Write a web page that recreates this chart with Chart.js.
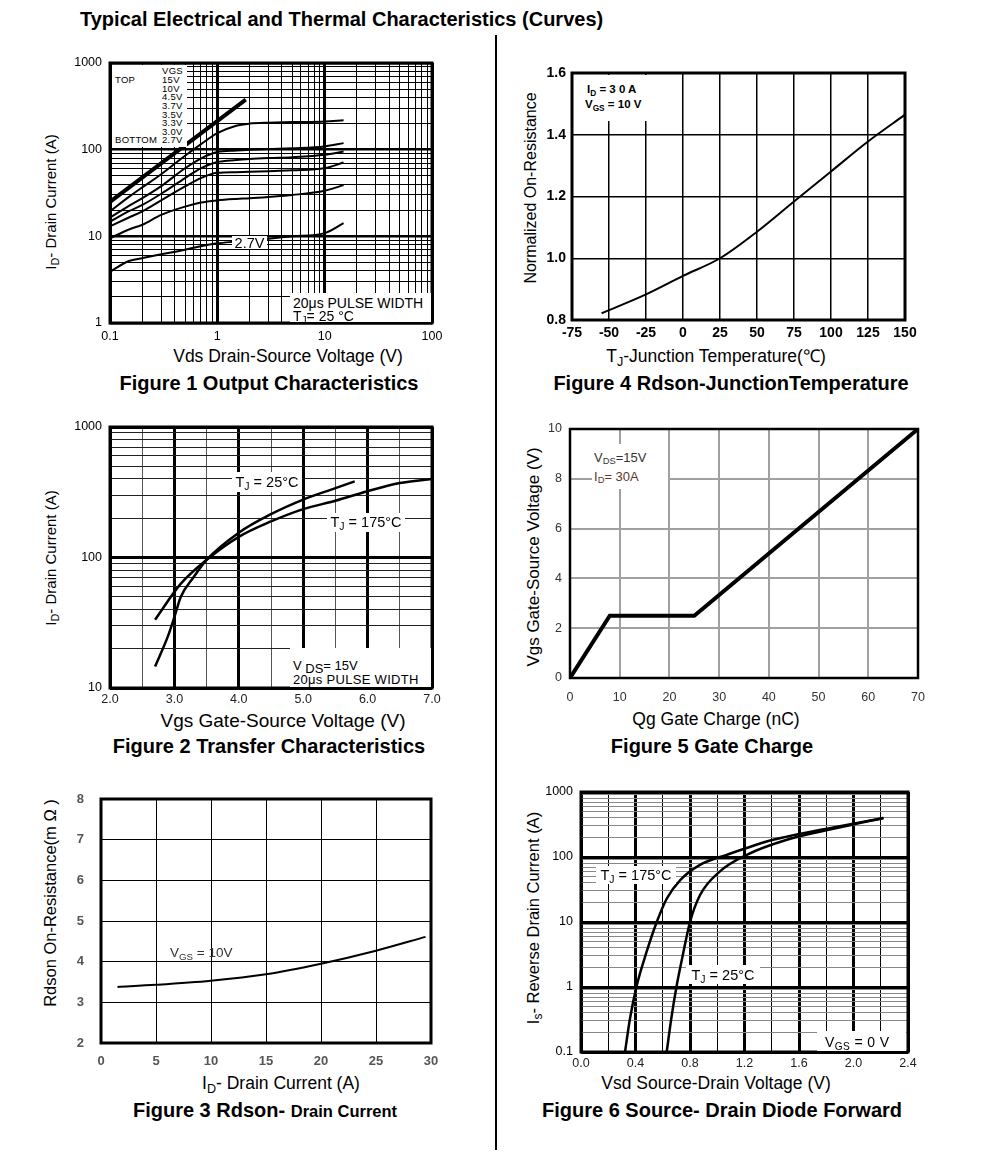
<!DOCTYPE html>
<html>
<head>
<meta charset="utf-8">
<script src="https://cdn.jsdelivr.net/npm/chart.js@4.4.1/dist/chart.umd.min.js"></script>
<style>
  body { margin: 0; background: #fff; }
  #page { position: relative; width: 991px; height: 1154px; overflow: hidden; font-family: "Liberation Sans", Arial, sans-serif; color: #000; }
  canvas { position: absolute; z-index: 1; }
  .t { position: absolute; white-space: nowrap; line-height: 1; transform: translate(-50%, -50%); }
  .r { position: absolute; white-space: nowrap; line-height: 1; transform: translate(-50%, -50%) rotate(-90deg); }
  .cap { font-weight: bold; font-size: 20px; }
  .ax { font-size: 17.5px; }
  .box { position: absolute; background: #fff; z-index: 2; }
  .n { position: absolute; white-space: nowrap; line-height: 1; transform: translateY(-50%); z-index: 3; }
  .nc { position: absolute; white-space: nowrap; line-height: 1; transform: translate(-50%, -50%); z-index: 3; }
  .leg { position: absolute; white-space: nowrap; z-index: 3; font-size: 9.5px; line-height: 8.62px; letter-spacing: 0.3px; }
  sub { font-size: 0.72em; vertical-align: -0.3em; line-height: 0; }
  #title { position: absolute; left: 80px; top: 8px; font-family: "Liberation Sans Narrow", "Liberation Sans", Arial, sans-serif; font-weight: bold; font-size: 20px; white-space: nowrap; }
  #divider { position: absolute; left: 495px; top: 35px; width: 2px; height: 1115px; background: #000; }
</style>
</head>
<body>
<div id="page">
  <div id="title">Typical Electrical and Thermal Characteristics (Curves)</div>
  <div id="divider"></div>

  <canvas id="fig1"></canvas>
  <canvas id="fig4"></canvas>
  <canvas id="fig2"></canvas>
  <canvas id="fig5"></canvas>
  <canvas id="fig3"></canvas>
  <canvas id="fig6"></canvas>

  <!-- figure 1 -->
  <div class="r" style="left:50px;top:202px;font-size:15px;">I<sub>D</sub>- Drain Current (A)</div>
  <div class="t ax" style="left:288px;top:357px;">Vds Drain-Source Voltage (V)</div>
  <div class="t cap" style="left:269px;top:383px;">Figure 1 Output Characteristics</div>
  <div class="box" style="left:112px;top:65px;width:75px;height:82px;"></div>
  <div class="leg" style="left:115px;top:67.4px;"><br>TOP<br><br><br><br><br><br><br>BOTTOM</div>
  <div class="leg" style="left:162px;top:67.4px;">VGS<br>15V<br>10V<br>4.5V<br>3.7V<br>3.5V<br>3.3V<br>3.0V<br>2.7V</div>
  <div class="box" style="left:232px;top:236px;width:35px;height:13px;"></div>
  <div class="nc" style="left:249.5px;top:242.5px;font-size:14.5px;">2.7V</div>
  <div class="box" style="left:290px;top:293px;width:141px;height:29px;"></div>
  <div class="n" style="left:293px;top:302.5px;font-size:14px;">20μs PULSE WIDTH</div>
  <div class="n" style="left:293px;top:316px;font-size:14px;">T<sub>J</sub>= 25 °C</div>

  <!-- figure 4 -->
  <div class="r" style="left:531px;top:188px;font-size:16px;">Normalized On-Resistance</div>
  <div class="t ax" style="left:716px;top:357px;">T<sub>J</sub>-Junction Temperature(℃)</div>
  <div class="t cap" style="left:731px;top:383px;">Figure 4 Rdson-JunctionTemperature</div>
  <div class="box" style="left:574px;top:75px;width:76px;height:46px;"></div>
  <div class="n" style="left:587px;top:90px;font-size:11.5px;font-weight:bold;">I<sub>D</sub> = 3 0 A</div>
  <div class="n" style="left:585px;top:105px;font-size:11.5px;font-weight:bold;">V<sub>GS</sub> = 10 V</div>

  <!-- figure 2 -->
  <div class="r" style="left:50px;top:558px;font-size:15px;">I<sub>D</sub>- Drain Current (A)</div>
  <div class="t" style="left:283px;top:720px;font-size:19px;">Vgs Gate-Source Voltage (V)</div>
  <div class="t cap" style="left:269px;top:746px;">Figure 2 Transfer Characteristics</div>
  <div class="box" style="left:232px;top:472px;width:70px;height:20px;"></div>
  <div class="nc" style="left:267px;top:482px;font-size:14.5px;">T<sub>J</sub> = 25°C</div>
  <div class="box" style="left:327px;top:513px;width:78px;height:19px;"></div>
  <div class="nc" style="left:366px;top:522px;font-size:14.5px;">T<sub>J</sub> = 175°C</div>
  <div class="box" style="left:290px;top:648px;width:141px;height:39px;"></div>
  <div class="n" style="left:293px;top:665px;font-size:13px;">V <sub style="font-size:1em">DS</sub>= 15V</div>
  <div class="n" style="left:293px;top:679px;font-size:13px;letter-spacing:0.3px;">20μs PULSE WIDTH</div>

  <!-- figure 5 -->
  <div class="r" style="left:533px;top:557px;font-size:17px;">Vgs Gate-Source Voltage (V)</div>
  <div class="t ax" style="left:716px;top:720px;">Qg Gate Charge (nC)</div>
  <div class="t cap" style="left:712px;top:746px;">Figure 5 Gate Charge</div>
  <div class="box" style="left:592px;top:444px;width:76px;height:45px;"></div>
  <div class="n" style="left:594px;top:457px;font-size:13px;color:#333;">V<sub>DS</sub>=15V</div>
  <div class="n" style="left:594px;top:476px;font-size:13px;color:#5e3528;">I<sub>D</sub>= 30A</div>

  <!-- figure 3 -->
  <div class="r" style="left:50px;top:903px;font-size:16.5px;">Rdson On-Resistance(m Ω )</div>
  <div class="t ax" style="left:281px;top:1084px;">I<sub>D</sub>- Drain Current (A)</div>
  <div class="t cap" style="left:265px;top:1110px;">Figure 3 Rdson- <span style="font-size:16.5px;">Drain Current</span></div>
  <div class="n" style="left:170px;top:953px;font-size:13.5px;color:#333;">V<sub>GS</sub> = 10V</div>

  <!-- figure 6 -->
  <div class="r" style="left:533px;top:918px;font-size:16.5px;">I<sub>s</sub>- Reverse Drain Current (A)</div>
  <div class="t ax" style="left:716px;top:1084px;">Vsd Source-Drain Voltage (V)</div>
  <div class="t cap" style="left:722px;top:1110px;">Figure 6 Source- Drain Diode Forward</div>
  <div class="box" style="left:596px;top:866px;width:80px;height:18px;"></div>
  <div class="nc" style="left:636px;top:875px;font-size:14.5px;">T<sub>J</sub> = 175°C</div>
  <div class="box" style="left:686px;top:965px;width:74px;height:19px;"></div>
  <div class="nc" style="left:723px;top:975px;font-size:14.5px;">T<sub>J</sub> = 25°C</div>
  <div class="box" style="left:817px;top:1031px;width:89px;height:20px;"></div>
  <div class="n" style="left:825px;top:1042px;font-size:14px;letter-spacing:0.4px;">V<sub>GS</sub> = 0 V</div>
</div>

<script>
// Figure 1 Output Characteristics (log-log)
const vdsPts = [0.1, 0.15, 0.2, 0.3, 0.5, 0.7, 1, 1.5, 2, 3, 5, 10, 15];
const vdsTop = [0.1, 1.84];
const idTop = [25, 378];
const id45V = [19.4, 28.5, 36.7, 52, 85, 115, 155, 189, 200, 205, 208, 212, 218];
const id37V = [16.4, 22.5, 27.6, 38, 61, 79, 94, 98, 100, 102, 104, 109, 119];
const id35V = [14.8, 19.5, 23, 31, 47, 61, 72, 76, 78, 80, 82, 87.5, 95];
const id33V = [13, 16.5, 19.4, 26, 37.6, 47, 54, 55, 55.5, 56.5, 58, 61, 71];
const id30V = [9.5, 12, 13.6, 17.7, 22, 24.5, 26, 27, 27.5, 28.5, 30, 33.6, 39];
const id27V = [3.9, 5.2, 5.6, 6.2, 7, 7.7, 8.3, 8.7, 9, 9.4, 10, 10.9, 14.2];

// Figure 2 Transfer Characteristics
const vgs25 = [2.7, 2.9, 3.0, 3.1, 3.3, 3.5, 4.0, 4.5, 5.0, 5.5, 5.8];
const id25 = [14.6, 25, 35, 50, 71, 96, 155, 215, 278, 340, 383];
const vgs175 = [2.7, 3.1, 3.5, 4.0, 4.5, 5.0, 5.5, 6.0, 6.5, 7.0];
const id175 = [33.4, 63, 96, 144, 189, 235, 272, 322, 372, 400];

// Figure 3 Rdson vs drain current
const idRds = [1.5, 5, 10, 15, 20, 25, 29.5];
const rdsOn = [3.38, 3.43, 3.53, 3.69, 3.95, 4.27, 4.61];

// Figure 4 Rdson vs junction temperature
const tj = [-55, -25, 0, 25, 50, 75, 100, 125, 150];
const rNorm = [0.822, 0.883, 0.943, 1.0, 1.086, 1.184, 1.281, 1.378, 1.465];

// Figure 5 Gate charge
const qg = [0, 8, 25, 70];
const vgsQ = [0, 2.5, 2.5, 10];

// Figure 6 Source-drain diode forward
const vsd175 = [0.323, 0.36, 0.41, 0.48, 0.556, 0.63, 0.73, 0.87, 1.07, 1.41, 1.76, 2.22];
const is175 = [0.1, 0.33, 1.07, 3.4, 10, 23, 44.5, 75, 108, 184, 262, 398];
const vsd25 = [0.629, 0.66, 0.703, 0.75, 0.80, 0.874, 1.02, 1.217, 1.511, 1.878, 2.22];
const is25 = [0.1, 0.3, 1.07, 3.3, 10, 26, 60, 108, 184, 279, 398];

Chart.defaults.font.family = "'Liberation Sans', Arial, sans-serif";
Chart.defaults.color = "#000";
Chart.defaults.animation = false;

// 枠線
const framePlugin = {
  id: "frame",
  afterDatasetsDraw(chart, args, opts) {
    const a = chart.chartArea;
    const c = chart.ctx;
    c.save();
    c.strokeStyle = "#000";
    c.lineWidth = opts.width || 3;
    c.strokeRect(a.left, a.top, a.right - a.left, a.bottom - a.top);
    c.restore();
  },
};
Chart.register(framePlugin);

function pts(xs, ys) {
  return xs.map((x, i) => ({ x: x, y: ys[i] }));
}

function isDecade(v) {
  const l = Math.log10(v);
  return Math.abs(l - Math.round(l)) < 1e-6;
}

function logTicks(min, max) {
  let out = [];
  for (let e = Math.round(Math.log10(min)); e < Math.round(Math.log10(max)); e++) {
    for (let k = 1; k < 10; k++) out.push(Number((k * Math.pow(10, e)).toPrecision(6)));
  }
  out.push(max);
  return out.map((v) => ({ value: v }));
}

function stepTicks(min, max, step) {
  let out = [];
  const n = Math.round((max - min) / step);
  for (let i = 0; i <= n; i++) out.push({ value: Number((min + i * step).toFixed(4)) });
  return out;
}

function line(data, width) {
  return {
    data: data,
    borderColor: "#000",
    borderWidth: width || 2,
    pointRadius: 0,
    fill: false,
    cubicInterpolationMode: "monotone",
  };
}

function logAxis(min, max, font, pad, minorColor, majorWidth) {
  return {
    type: "logarithmic",
    min: min,
    max: max,
    afterBuildTicks: (s) => { s.ticks = logTicks(min, max); },
    ticks: {
      autoSkip: false,
      maxRotation: 0,
      padding: pad,
      font: font,
      callback: (v) => (isDecade(v) ? String(v) : ""),
    },
    grid: {
      drawTicks: false,
      color: (c) => (c.tick && isDecade(c.tick.value) ? "#000" : minorColor),
      lineWidth: (c) => (c.tick && isDecade(c.tick.value) ? majorWidth : 1),
    },
    border: { display: false },
  };
}

function linAxis(min, max, step, font, pad, color, labelFn, gridColor, gridWidth) {
  return {
    type: "linear",
    min: min,
    max: max,
    afterBuildTicks: (s) => { s.ticks = stepTicks(min, max, step); },
    ticks: { autoSkip: false, maxRotation: 0, padding: pad, font: font, color: color, callback: labelFn },
    grid: { drawTicks: false, color: gridColor, lineWidth: gridWidth },
    border: { display: false },
  };
}

// プロット領域を指定の位置に合わせる
function makeChart(id, area, datasets, scales, frameWidth) {
  const yw = 60, xh = 30, pt = 12, pr = 24;
  const cv = document.getElementById(id);
  cv.width = area.r - area.l + yw + pr;
  cv.height = area.b - area.t + pt + xh;
  cv.style.left = area.l - yw + "px";
  cv.style.top = area.t - pt + "px";
  scales.x.afterFit = (s) => { s.height = xh; s.paddingLeft = 0; s.paddingRight = 0; };
  scales.y.afterFit = (s) => { s.width = yw; s.paddingTop = 0; s.paddingBottom = 0; };
  return new Chart(cv.getContext("2d"), {
    type: "line",
    data: { datasets: datasets },
    options: {
      responsive: false,
      layout: { autoPadding: false, padding: { top: pt, right: pr, left: 0, bottom: 0 } },
      plugins: { legend: { display: false }, tooltip: { enabled: false }, frame: { width: frameWidth } },
      scales: scales,
    },
  });
}

// Figure 1
makeChart("fig1", { l: 110, t: 63, r: 432, b: 323 }, [
  line(pts(vdsTop, idTop), 4),
  line(pts(vdsPts, id45V)),
  line(pts(vdsPts, id37V)),
  line(pts(vdsPts, id35V)),
  line(pts(vdsPts, id33V)),
  line(pts(vdsPts, id30V)),
  line(pts(vdsPts, id27V)),
], {
  x: logAxis(0.1, 100, { size: 12.5 }, 6, "#000", 3),
  y: logAxis(1, 1000, { size: 12.5 }, 8, "#000", 2.5),
}, 3);

// Figure 4
makeChart("fig4", { l: 572, t: 73, r: 905, b: 320 }, [
  line(pts(tj, rNorm), 2),
], {
  x: linAxis(-75, 150, 25, { size: 14, weight: "bold" }, 5, "#000", (v) => String(v), "#000", 1.5),
  y: linAxis(0.8, 1.6, 0.2, { size: 14, weight: "bold" }, 6, "#000", (v) => v.toFixed(1), "#000", 1.5),
}, 3);

// Figure 2
makeChart("fig2", { l: 110, t: 427, r: 432, b: 688 }, [
  line(pts(vgs25, id25), 2.5),
  line(pts(vgs175, id175), 2.5),
], {
  x: {
    ...linAxis(2, 7, 0.5, { size: 12.5 }, 4, "#222", (v) => (Math.abs(v % 1) < 1e-6 ? v.toFixed(1) : ""), "#000", 1),
    grid: {
      drawTicks: false,
      color: (c) => (c.tick && Math.abs(c.tick.value % 1) < 1e-6 ? "#000" : "#555"),
      lineWidth: (c) => (c.tick && Math.abs(c.tick.value % 1) < 1e-6 ? 3 : 1),
    },
  },
  y: logAxis(10, 1000, { size: 12.5 }, 8, "#222", 3),
}, 3);

// Figure 5
makeChart("fig5", { l: 570, t: 429, r: 918, b: 678 }, [
  { ...line(pts(qg, vgsQ), 4), cubicInterpolationMode: "default", tension: 0 },
], {
  x: linAxis(0, 70, 10, { size: 12.5 }, 12, "#333", (v) => String(v), "#a0a0a0", 2),
  y: linAxis(0, 10, 2, { size: 12.5 }, 8, "#333", (v) => String(v), "#a0a0a0", 2),
}, 2.5);

// Figure 3
makeChart("fig3", { l: 101, t: 799, r: 431, b: 1043 }, [
  line(pts(idRds, rdsOn), 2),
], {
  x: linAxis(0, 30, 5, { size: 13, weight: "bold" }, 11, "#555", (v) => String(v), "#000", 1),
  y: linAxis(2, 8, 1, { size: 13, weight: "bold" }, 17, "#555", (v) => String(v), "#000", 1),
}, 3);

// Figure 6
makeChart("fig6", { l: 581, t: 792, r: 908, b: 1052 }, [
  line(pts(vsd175, is175), 2.5),
  line(pts(vsd25, is25), 2.5),
], {
  x: {
    ...linAxis(0, 2.4, 0.2, { size: 12.5 }, 4, "#222", (v) => (Math.round(v * 10) % 4 === 0 ? v.toFixed(1) : ""), "#000", 1),
    grid: {
      drawTicks: false,
      color: "#000",
      lineWidth: (c) => (c.tick && Math.round(c.tick.value * 10) % 4 === 0 ? 3 : 1),
    },
  },
  y: logAxis(0.1, 1000, { size: 12.5 }, 8, "#888", 3),
}, 3);
</script>
</body>
</html>
